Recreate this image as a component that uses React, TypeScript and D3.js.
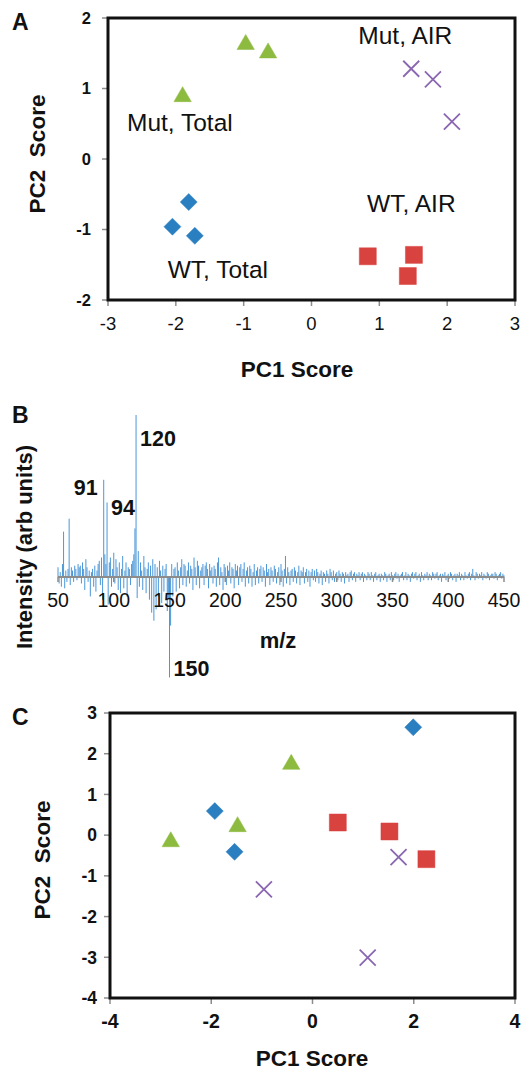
import React from "react";
import * as d3 from "d3";

const FONT = "'Liberation Sans', Arial, Helvetica, sans-serif";
const BLUE = "#2a7fc1";
const RED = "#d8433f";
const GREEN = "#8dbb3f";
const PURPLE = "#8a67b1";
const GREY = "#8c8c8c";
const SPEC = "#4b97d8";

// ---- panel A (PCA scores) ----
const aTicksX = [-3, -2, -1, 0, 1, 2, 3];
const aTicksY = [-2, -1, 0, 1, 2];
const aWtTotal = [[-1.81, -0.61], [-2.05, -0.96], [-1.72, -1.09]];
const aWtAir = [[0.83, -1.38], [1.51, -1.36], [1.42, -1.66]];
const aMutTotal = [[-1.9, 0.92], [-0.97, 1.66], [-0.64, 1.54]];
const aMutAir = [[1.47, 1.28], [1.79, 1.13], [2.07, 0.53]];
const aNotes = [
  { text: "Mut, AIR", x: 0.69, y: 1.63 },
  { text: "Mut, Total", x: -2.72, y: 0.4 },
  { text: "WT, AIR", x: 0.82, y: -0.75 },
  { text: "WT, Total", x: -2.12, y: -1.69 },
];

// ---- panel B (loadings spectrum, m/z 50..450) ----
const mzStart = 50;
const mzTicks = [50, 100, 150, 200, 250, 300, 350, 400, 450];
const intensity = [
  6, -4, 3, -6, 8, 28, -7, 4, -3, 5,
  36, -5, 6, 4, -3, 7, 5, -2, 8, 6,
  7, -4, 9, 5, -8, 11, 6, -3, 4, -12,
  3, 5, -6, 7, -9, 4, 8, 10, -5, 12,
  -14, 60, 14, 8, 46, -17, 9, 12, -6, 5,
  15, -4, 11, 6, -8, 9, -10, 5, 13, -7,
  4, 9, -12, 6, 5, -5, 8, 10, 14, 30,
  100, -13, 16, -6, 9, 4, -8, 13, 6, -10,
  5, 9, -14, 7, -22, 11, -27, 8, -20, 6,
  -12, 10, 4, -16, 7, -9, 5, 8, -21, -13,
  -62, -30, 8, -12, 5, 6, -9, 9, 4, -7,
  6, 11, -5, 8, 7, -6, 4, 9, -4, 7,
  5, -8, 12, 6, -5, 10, 7, -7, 4, 6,
  8, -5, 7, 9, 5, -7, 8, 4, 6, -4,
  7, 5, -6, 9, 12, -5, 6, 3, -8, 8,
  6, -5, 7, 4, 9, -4, 6, 5, -7, 8,
  4, 7, -5, 6, 8, -3, 5, 9, -6, 4,
  6, -4, 7, 5, -6, 3, 8, -5, 4, 6,
  -4, 5, 7, -3, 6, 4, -6, 8, 3, 5,
  -5, 6, 4, -3, 7, 5, -4, 3, 6, -5,
  8, 4, -6, 5, 13, -4, 6, 3, -5, 4,
  5, -3, 6, 4, -4, 3, 7, -5, 4, 3,
  6, -4, 3, 5, -3, 4, -6, 3, 5, -2,
  4, -3, 5, 3, -4, 2, 4, -5, 3, 2,
  -3, 4, 2, -4, 5, 3, -2, 4, -3, 2,
  3, -2, 4, 2, -3, 3, 2, -4, 3, 1,
  2, -3, 3, 4, -2, 2, 3, -3, 2, 1,
  3, -2, 2, 3, -3, 2, 1, -2, 3, 2,
  -2, 3, 1, -3, 2, 3, -2, 1, 2, -3,
  2, 1, -2, 3, 2, -3, 1, 2, -2, 3,
  1, -2, 2, 3, -1, 2, -3, 1, 2, 3,
  -2, 1, 3, -2, 2, 1, -3, 2, 3, -1,
  2, 3, -2, 1, 2, -3, 3, 1, -2, 2,
  1, 3, -2, 2, 1, -2, 3, 2, -1, 2,
  3, -2, 1, 2, -3, 2, 1, 3, -2, 1,
  2, -1, 3, 2, -2, 1, 2, -3, 2, 1,
  3, -2, 2, 1, -2, 3, 1, -1, 2, 3,
  -2, 2, 5, 1, -2, 3, 2, -1, 2, 1,
  3, -2, 2, 1, -1, 3, 2, -2, 1, 2,
  2, -1, 3, 2, -2, 1, 2, 3, -1, 2,
  1,
];
const peakLabels = [
  { text: "120", mz: 120, dx: 4, dy: 31, anchor: "start" },
  { text: "91", mz: 91, dx: -6, dy: 15, anchor: "end" },
  { text: "94", mz: 94, dx: 4, dy: 13, anchor: "start" },
  { text: "150", mz: 150, dx: 4, dy: -1, anchor: "start" },
];

// ---- panel C (PCA scores) ----
const cTicksX = [-4, -2, 0, 2, 4];
const cTicksY = [-4, -3, -2, -1, 0, 1, 2, 3];
const cWtTotal = [[1.99, 2.65], [-1.93, 0.59], [-1.54, -0.41]];
const cWtAir = [[0.5, 0.31], [1.52, 0.09], [2.25, -0.59]];
const cMutTotal = [[-2.8, -0.1], [-1.48, 0.27], [-0.42, 1.8]];
const cMutAir = [[1.7, -0.54], [-0.96, -1.33], [1.09, -3.01]];

function marker(kind: string): string {
  const p = d3.path();
  if (kind === "diamond") {
    const r = 8.5;
    p.moveTo(0, -r); p.lineTo(r, 0); p.lineTo(0, r); p.lineTo(-r, 0); p.closePath();
  } else if (kind === "square") {
    p.rect(-8.5, -8.5, 17, 17);
  } else if (kind === "triangle") {
    p.moveTo(0, -7.5); p.lineTo(8.7, 7.5); p.lineTo(-8.7, 7.5); p.closePath();
  } else {
    const r = 8;
    p.moveTo(-r, -r); p.lineTo(r, r); p.moveTo(r, -r); p.lineTo(-r, r);
  }
  return p.toString();
}

function Points({ data, kind, color, x, y }: any) {
  return (
    <g>
      {data.map((d: number[], i: number) => (
        <path
          key={i}
          d={marker(kind)}
          transform={`translate(${x(d[0])},${y(d[1])})`}
          fill={kind === "cross" ? "none" : color}
          stroke={color}
          strokeWidth={kind === "cross" ? 1.8 : 0.5}
        />
      ))}
    </g>
  );
}

function Frame({ x, y, ticksX, ticksY, yTickX, xTickY, xTickSize, yTickSize, xBold }: any) {
  const [x0, x1] = x.range();
  const [y0, y1] = y.range();
  return (
    <g>
      {ticksY.map((t: number) => (
        <line key={"yt" + t} x1={x0 - 6} x2={x0} y1={y(t)} y2={y(t)} stroke={GREY} strokeWidth={1.5} />
      ))}
      {ticksX.map((t: number) => (
        <line key={"xt" + t} x1={x(t)} x2={x(t)} y1={y0} y2={y0 + 6} stroke={GREY} strokeWidth={1.5} />
      ))}
      <rect x={x0} y={y1} width={x1 - x0} height={y0 - y1} fill="none" stroke="#111" strokeWidth={3} />
      {ticksY.map((t: number) => (
        <text key={"yl" + t} x={yTickX} y={y(t)} dy="0.36em" textAnchor="end" fontSize={yTickSize} fontWeight="bold">
          {t}
        </text>
      ))}
      {ticksX.map((t: number) => (
        <text key={"xl" + t} x={x(t)} y={xTickY} textAnchor="middle" fontSize={xTickSize} fontWeight={xBold ? "bold" : "normal"}>
          {t}
        </text>
      ))}
    </g>
  );
}

export default function App() {
  const xA = d3.scaleLinear().domain([-3, 3]).range([108, 515]);
  const yA = d3.scaleLinear().domain([-2, 2]).range([300, 18]);

  const xB = d3.scaleLinear().domain([50, 450]).range([58, 504]);
  const yB = d3.scaleLinear().domain([0, 100]).range([577, 415]);

  const xC = d3.scaleLinear().domain([-4, 4]).range([110, 515]);
  const yC = d3.scaleLinear().domain([-4, 3]).range([998, 713]);

  return (
    <svg
      width={522}
      height={1071}
      style={{ position: "absolute", left: 0, top: 0, background: "#fff" }}
      fontFamily={FONT}
      fill="#111"
    >
      {/* panel A */}
      <text x={12} y={30} fontSize={23} fontWeight="bold">A</text>
      <Frame x={xA} y={yA} ticksX={aTicksX} ticksY={aTicksY} yTickX={91} xTickY={330} xTickSize={18.5} yTickSize={16.5} xBold={false} />
      <Points data={aMutTotal} kind="triangle" color={GREEN} x={xA} y={yA} />
      <Points data={aMutAir} kind="cross" color={PURPLE} x={xA} y={yA} />
      <Points data={aWtTotal} kind="diamond" color={BLUE} x={xA} y={yA} />
      <Points data={aWtAir} kind="square" color={RED} x={xA} y={yA} />
      {aNotes.map((n) => (
        <text key={n.text} x={xA(n.x)} y={yA(n.y)} fontSize={24.5}>{n.text}</text>
      ))}
      <text transform="translate(45,154) rotate(-90)" textAnchor="middle" fontSize={22.5} fontWeight="bold" xmlSpace="preserve">
        PC2  Score
      </text>
      <text x={297} y={377} textAnchor="middle" fontSize={22.5} fontWeight="bold">PC1 Score</text>

      {/* panel B */}
      <text x={12} y={423} fontSize={23} fontWeight="bold">B</text>
      {intensity.map((v, i) => (
        <line key={i} x1={xB(mzStart + i)} x2={xB(mzStart + i)} y1={yB(0)} y2={yB(v)} stroke={SPEC} strokeWidth={1} />
      ))}
      <line x1={xB(50)} x2={xB(450)} y1={yB(0)} y2={yB(0)} stroke={GREY} strokeWidth={2} />
      {mzTicks.map((t) => (
        <g key={t}>
          <line x1={xB(t)} x2={xB(t)} y1={yB(0)} y2={yB(0) + 5} stroke={GREY} strokeWidth={1.5} />
          <text x={xB(t)} y={607} textAnchor="middle" fontSize={19.5}>{t}</text>
        </g>
      ))}
      {peakLabels.map((p) => (
        <text
          key={p.text}
          x={xB(p.mz) + p.dx}
          y={yB(intensity[p.mz - mzStart]) + p.dy}
          textAnchor={p.anchor as any}
          fontSize={21.5}
          fontWeight="bold"
        >
          {p.text}
        </text>
      ))}
      <text transform="translate(32,547) rotate(-90)" textAnchor="middle" fontSize={22} fontWeight="bold">
        Intensity (arb units)
      </text>
      <text x={278} y={648} textAnchor="middle" fontSize={22} fontWeight="bold">m/z</text>

      {/* panel C */}
      <text x={12} y={725} fontSize={23} fontWeight="bold">C</text>
      <Frame x={xC} y={yC} ticksX={cTicksX} ticksY={cTicksY} yTickX={97} xTickY={1028} xTickSize={19.5} yTickSize={17.5} xBold={true} />
      <Points data={cMutTotal} kind="triangle" color={GREEN} x={xC} y={yC} />
      <Points data={cMutAir} kind="cross" color={PURPLE} x={xC} y={yC} />
      <Points data={cWtTotal} kind="diamond" color={BLUE} x={xC} y={yC} />
      <Points data={cWtAir} kind="square" color={RED} x={xC} y={yC} />
      <text transform="translate(50,860) rotate(-90)" textAnchor="middle" fontSize={22.5} fontWeight="bold" xmlSpace="preserve">
        PC2  Score
      </text>
      <text x={312} y={1066} textAnchor="middle" fontSize={22.5} fontWeight="bold">PC1 Score</text>
    </svg>
  );
}
